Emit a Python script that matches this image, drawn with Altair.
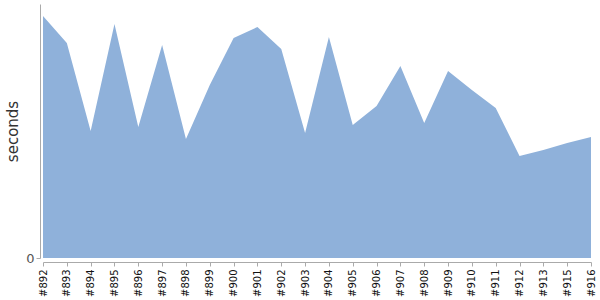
import altair as alt
import pandas as pd

builds = ["#892", "#893", "#894", "#895", "#896", "#897", "#898", "#899", "#900",
          "#901", "#902", "#903", "#904", "#905", "#906", "#907", "#908", "#909",
          "#910", "#911", "#912", "#913", "#915", "#916"]
seconds = [242, 215, 127, 234, 131, 213, 119, 173, 220,
           231, 209, 125, 221, 133, 152, 192, 135, 187,
           168, 150, 102, 108, 115, 121]

df = pd.DataFrame({"build": builds, "seconds": seconds})

chart = alt.Chart(df).mark_area(color="#8fb1da", opacity=1, interpolate="linear").encode(
    x=alt.X("build:N", sort=None, scale=alt.Scale(type="point", padding=0),
            axis=alt.Axis(title=None, labelAngle=-90, labelFontSize=10, labelColor="#111",
                          labelFont="DejaVu Sans", tickColor="#aaa", domainColor="#aaa",
                          tickSize=4, offset=4, labelPadding=3, grid=False)),
    y=alt.Y("seconds:Q", scale=alt.Scale(domain=[0, 254], nice=False),
            axis=alt.Axis(title="seconds", values=[0], titleFontSize=15, titleColor="#333",
                          titleFont="DejaVu Sans", titleFontWeight="normal", titlePadding=5,
                          labelFontSize=13, labelColor="#555", labelFont="DejaVu Sans",
                          tickColor="#aaa", domainColor="#aaa", tickSize=4, offset=3,
                          grid=False)),
).properties(
    width=548, height=254,
    autosize=alt.AutoSizeParams(type="none"),
    padding={"left": 43, "top": 4, "right": 9, "bottom": 42},
).configure_view(stroke=None)

chart.save("out.html", embed_options={"renderer": "svg", "actions": False})
